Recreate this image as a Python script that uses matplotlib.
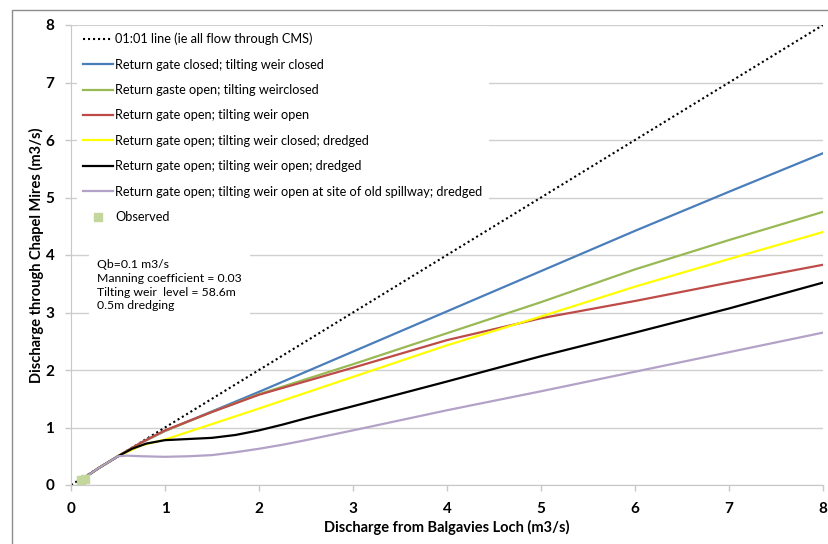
import matplotlib
matplotlib.use("Agg")
import matplotlib.pyplot as plt
from matplotlib.patches import Rectangle

plt.rcParams['font.family'] = ['Lato', 'DejaVu Sans']

# 1:1 reference
one_x = [0, 8]
one_y = [0, 8]

# scenario curves
blue_x = [0.1, 0.3, 0.5, 0.75, 1, 1.5, 2, 3, 4, 5, 6, 7, 8]
blue_y = [0.08, 0.3, 0.5, 0.74, 0.94, 1.28, 1.62, 2.32, 3.02, 3.72, 4.42, 5.1, 5.77]

green_x = [0.1, 0.3, 0.5, 0.75, 1, 1.5, 2, 3, 4, 5, 6, 7, 8]
green_y = [0.08, 0.3, 0.5, 0.74, 0.94, 1.27, 1.58, 2.1, 2.64, 3.18, 3.75, 4.26, 4.75]

red_x = [0.1, 0.3, 0.5, 0.75, 1, 1.5, 2, 3, 4, 5, 6, 7, 8]
red_y = [0.08, 0.3, 0.5, 0.74, 0.95, 1.27, 1.57, 2.04, 2.52, 2.9, 3.2, 3.52, 3.83]

yellow_x = [0.1, 0.3, 0.5, 0.75, 1, 2, 3, 4, 5, 6, 7, 8]
yellow_y = [0.08, 0.3, 0.5, 0.69, 0.79, 1.33, 1.88, 2.43, 2.93, 3.45, 3.93, 4.4]

black_x = [0.1, 0.3, 0.5, 0.65, 0.8, 1, 1.25, 1.5, 1.75, 2, 2.25, 2.5, 3, 4, 5, 6, 7, 8]
black_y = [0.08, 0.3, 0.5, 0.63, 0.72, 0.78, 0.8, 0.82, 0.87, 0.95, 1.05, 1.16, 1.37, 1.8, 2.24, 2.65, 3.07, 3.52]

purple_x = [0.1, 0.3, 0.5, 0.6, 0.75, 1, 1.25, 1.5, 1.75, 2, 2.25, 2.5, 3, 4, 5, 6, 7, 8]
purple_y = [0.08, 0.3, 0.5, 0.51, 0.5, 0.49, 0.5, 0.52, 0.57, 0.63, 0.7, 0.78, 0.95, 1.3, 1.63, 1.97, 2.31, 2.65]

obs_x = [0.11, 0.15]
obs_y = [0.08, 0.11]

labels = [
    "01:01 line (ie all flow through CMS)",
    "Return gate closed; tilting weir closed",
    "Return gaste open; tilting weirclosed",
    "Return gate open; tilting weir open",
    "Return gate open; tilting weir closed; dredged",
    "Return gate open; tilting weir open; dredged",
    "Return gate open; tilting weir open at site of old spillway; dredged",
    "Observed",
]

fig = plt.figure(figsize=(8.29, 5.44), dpi=100)
ax = fig.add_axes([71 / 829, 1 - 485 / 544, (823 - 71) / 829, (485 - 25) / 544])

lw = 1.6
ax.plot(one_x, one_y, color="black", lw=1.5, ls=(0, (1, 1.4)), label=labels[0])
ax.plot(blue_x, blue_y, color="#4a7ebb", lw=lw, label=labels[1])
ax.plot(green_x, green_y, color="#98b954", lw=lw, label=labels[2])
ax.plot(red_x, red_y, color="#be4b48", lw=lw, label=labels[3])
ax.plot(yellow_x, yellow_y, color="#ffff00", lw=lw, label=labels[4])
ax.plot(black_x, black_y, color="black", lw=lw, label=labels[5])
ax.plot(purple_x, purple_y, color="#b3a2c7", lw=lw, label=labels[6])
ax.plot(obs_x, obs_y, ls="none", marker="s", ms=6, color="#c3d69b", label=labels[7])

ax.set_xlim(0, 8)
ax.set_ylim(0, 8)
ax.set_xticks(range(9))
ax.set_yticks(range(9))
ax.grid(axis="y", color="#d0d0d0", lw=1)
ax.set_axisbelow(True)
for s in ["top", "right"]:
    ax.spines[s].set_visible(False)
for s in ["left", "bottom"]:
    ax.spines[s].set_color("#c8c8c8")
ax.tick_params(colors="#c8c8c8", length=4, width=1, labelcolor="black", labelsize=11)
for t in ax.get_xticklabels() + ax.get_yticklabels():
    t.set_fontweight("bold")
ax.tick_params(axis="y", pad=8)
ax.tick_params(axis="x", pad=8)

ax.set_xlabel("Discharge from Balgavies Loch (m3/s)", fontsize=10.5, fontweight="bold")
ax.set_ylabel("Discharge through Chapel Mires (m3/s)", fontsize=10.5, fontweight="bold")
ax.xaxis.set_label_coords(0.5, -0.076)
ax.yaxis.set_label_coords(-0.036, 0.5)

leg = ax.legend(loc="upper left", bbox_to_anchor=(0.006, 1), borderaxespad=0.1, fontsize=9.2,
                frameon=True, facecolor="white", edgecolor="none", framealpha=1, fancybox=False,
                handlelength=2.35, handletextpad=0.15, labelspacing=1.05, borderpad=0.5)
leg.set_zorder(5)

ax.text(0.035, 0.491, "Qb=0.1 m3/s\nManning coefficient = 0.03\nTilting weir  level = 58.6m\n0.5m dredging",
        transform=ax.transAxes, fontsize=8.8, va="top", ha="left", linespacing=1.3,
        bbox=dict(facecolor="white", edgecolor="none", pad=6), zorder=4)

fig.patches.append(Rectangle((12 / 829, -0.1), 1.2, 1.1 - 10 / 544, transform=fig.transFigure,
                             fill=False, edgecolor="#8c8c8c", lw=1))

fig.savefig("out.png", dpi=100)
